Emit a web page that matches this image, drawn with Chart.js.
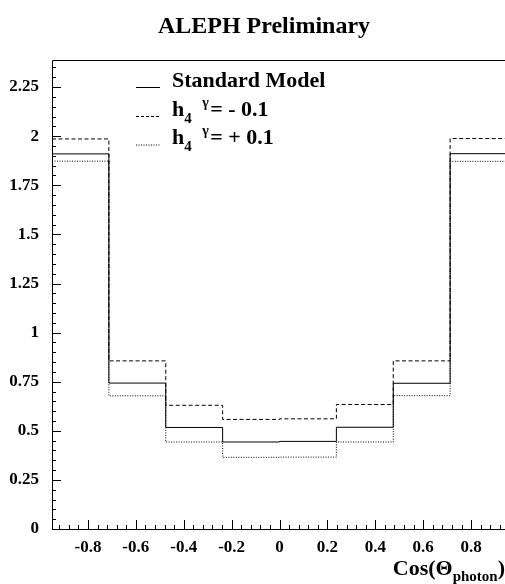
<!DOCTYPE html>
<html>
<head>
<meta charset="utf-8">
<script src="https://cdn.jsdelivr.net/npm/chart.js@4.4.1/dist/chart.umd.min.js"></script>
<style>
    html, body { margin: 0; padding: 0; background: #fff; overflow: hidden; }
    #box { width: 510px; height: 584px; }
</style>
</head>
<body>
<div id="box"><canvas id="grafico-cos"></canvas></div>
<script>
// bordas dos bins em cos(theta) e conteudo de cada bin
const binEdges = [-0.95, -0.7125, -0.475, -0.2375, 0, 0.2375, 0.475, 0.7125, 0.95];
const modeloPadrao = [1.910, 0.743, 0.517, 0.443, 0.446, 0.518, 0.742, 1.911];
const h4Menos = [1.986, 0.856, 0.630, 0.558, 0.561, 0.634, 0.856, 1.988];
const h4Mais = [1.873, 0.678, 0.443, 0.365, 0.366, 0.443, 0.679, 1.872];

const xTicks = [-0.8, -0.6, -0.4, -0.2, 0, 0.2, 0.4, 0.6, 0.8];
const xTickLabels = ['-0.8', '-0.6', '-0.4', '-0.2', '0', '0.2', '0.4', '0.6', '0.8'];
const yTicks = [0, 0.25, 0.5, 0.75, 1, 1.25, 1.5, 1.75, 2, 2.25];
const yTickLabels = ['0', '0.25', '0.5', '0.75', '1', '1.25', '1.5', '1.75', '2', '2.25'];
const yMax = 2.388;

const SERIF = '"Liberation Serif", "DejaVu Serif", serif';

// histograma como degraus: um ponto na borda esquerda de cada bin + borda final
function degraus(valores) {
    const pts = valores.map((v, i) => ({ x: binEdges[i], y: v }));
    pts.push({ x: binEdges[binEdges.length - 1], y: valores[valores.length - 1] });
    return pts;
}

function linhaDataset(label, valores, dash) {
    return {
        label: label,
        data: degraus(valores),
        stepped: 'before',
        borderColor: '#000',
        borderWidth: 1,
        borderDash: dash,
        pointRadius: 0,
        fill: false
    };
}

// ticks para dentro, moldura, titulo e legenda no estilo PAW/ROOT
const decoracao = {
    id: 'decoracao',
    afterDraw(chart) {
        const ctx = chart.ctx;
        const a = chart.chartArea;
        const sx = chart.scales.x;
        const sy = chart.scales.y;

        ctx.save();
        ctx.strokeStyle = '#000';
        ctx.lineWidth = 1;

        // moldura
        ctx.beginPath();
        ctx.moveTo(Math.round(a.left) + 0.5, Math.round(a.bottom) + 0.5);
        ctx.lineTo(Math.round(a.left) + 0.5, Math.round(a.top) + 0.5);
        ctx.lineTo(Math.round(a.right) + 0.5, Math.round(a.top) + 0.5);
        ctx.lineTo(Math.round(a.right) + 0.5, Math.round(a.bottom) + 0.5);
        ctx.lineTo(Math.round(a.left) + 0.5, Math.round(a.bottom) + 0.5);
        ctx.stroke();

        // ticks do eixo x (principal 0.2, secundario 0.04)
        ctx.beginPath();
        for (let k = -24; k <= 24; k++) {
            const v = k * 0.04;
            if (v < -0.95 || v > 0.95) continue;
            const px = Math.round(sx.getPixelForValue(v)) + 0.5;
            const len = (k % 5 === 0) ? 9 : 4;
            ctx.moveTo(px, a.bottom);
            ctx.lineTo(px, a.bottom - len);
        }
        // ticks do eixo y (principal 0.25, secundario 0.05)
        for (let k = 0; k <= 47; k++) {
            const v = k * 0.05;
            if (v > yMax) continue;
            const py = Math.round(sy.getPixelForValue(v)) + 0.5;
            const len = (k % 5 === 0) ? 9 : 4;
            ctx.moveTo(a.left, py);
            ctx.lineTo(a.left + len, py);
        }
        ctx.stroke();

        ctx.fillStyle = '#000';
        ctx.textBaseline = 'alphabetic';

        // titulo
        ctx.font = 'bold 24px ' + SERIF;
        ctx.textAlign = 'center';
        ctx.fillText('ALEPH Preliminary', 264, 33);

        // legenda
        const lx0 = 136, lx1 = 160, tx = 172;
        const linhas = [
            { y: 87.5, dash: [] },
            { y: 116.5, dash: [3, 2] },
            { y: 145, dash: [1, 1.5] }
        ];
        linhas.forEach(l => {
            ctx.setLineDash(l.dash);
            ctx.beginPath();
            ctx.moveTo(lx0, l.y);
            ctx.lineTo(lx1, l.y);
            ctx.stroke();
        });
        ctx.setLineDash([]);

        ctx.textAlign = 'left';
        ctx.font = 'bold 22px ' + SERIF;
        ctx.fillText('Standard Model', tx, 87);

        const h4 = (y, resto) => {
            ctx.font = 'bold 22px ' + SERIF;
            ctx.fillText('h', tx, y);
            let x = tx + ctx.measureText('h').width;
            ctx.font = 'bold 15px ' + SERIF;
            ctx.fillText('4', x, y + 7);
            ctx.font = 'bold 14px ' + SERIF;
            ctx.fillText('\u03b3', x + 18, y - 9);
            ctx.font = 'bold 22px ' + SERIF;
            ctx.fillText(resto, x + 26, y);
        };
        h4(116, '= - 0.1');
        h4(144, '= + 0.1');

        // titulo do eixo x
        ctx.textAlign = 'right';
        ctx.font = 'bold 15px ' + SERIF;
        const sub = 'photon';
        const wSub = ctx.measureText(sub).width;
        ctx.font = 'bold 22px ' + SERIF;
        const wPar = ctx.measureText(')').width;
        ctx.fillText(')', 505, 575);
        ctx.font = 'bold 15px ' + SERIF;
        ctx.fillText(sub, 505 - wPar, 581);
        ctx.font = 'bold 22px ' + SERIF;
        ctx.fillText('Cos(\u0398', 505 - wPar - wSub, 575);

        ctx.restore();
    }
};

const grafico = new Chart(document.getElementById('grafico-cos').getContext('2d'), {
    type: 'line',
    data: {
        datasets: [
            linhaDataset('Standard Model', modeloPadrao, []),
            linhaDataset('h4 = - 0.1', h4Menos, [4, 2.5]),
            linhaDataset('h4 = + 0.1', h4Mais, [1, 1.5])
        ]
    },
    options: {
        responsive: true,
        maintainAspectRatio: false,
        animation: false,
        layout: { padding: { top: 60, right: 3, left: 0, bottom: 0 } },
        plugins: {
            legend: { display: false },
            title: { display: false },
            tooltip: { enabled: false }
        },
        scales: {
            x: {
                type: 'linear',
                min: -0.95,
                max: 0.95,
                afterBuildTicks: scale => { scale.ticks = xTicks.map(v => ({ value: v })); },
                afterFit: scale => { scale.height = 55; },
                grid: { display: false, drawTicks: false },
                border: { display: false },
                ticks: {
                    autoSkip: false,
                    maxRotation: 0,
                    padding: 8,
                    color: '#000',
                    font: { family: SERIF, size: 17, weight: 'bold' },
                    callback: (v, i) => xTickLabels[i]
                }
            },
            y: {
                min: 0,
                max: yMax,
                afterBuildTicks: scale => { scale.ticks = yTicks.map(v => ({ value: v })); },
                afterFit: scale => { scale.width = 52; },
                grid: { display: false, drawTicks: false },
                border: { display: false },
                ticks: {
                    autoSkip: false,
                    padding: 13,
                    color: '#000',
                    font: { family: SERIF, size: 17, weight: 'bold' },
                    callback: (v, i) => yTickLabels[i]
                }
            }
        }
    },
    plugins: [decoracao]
});
</script>
</body>
</html>
